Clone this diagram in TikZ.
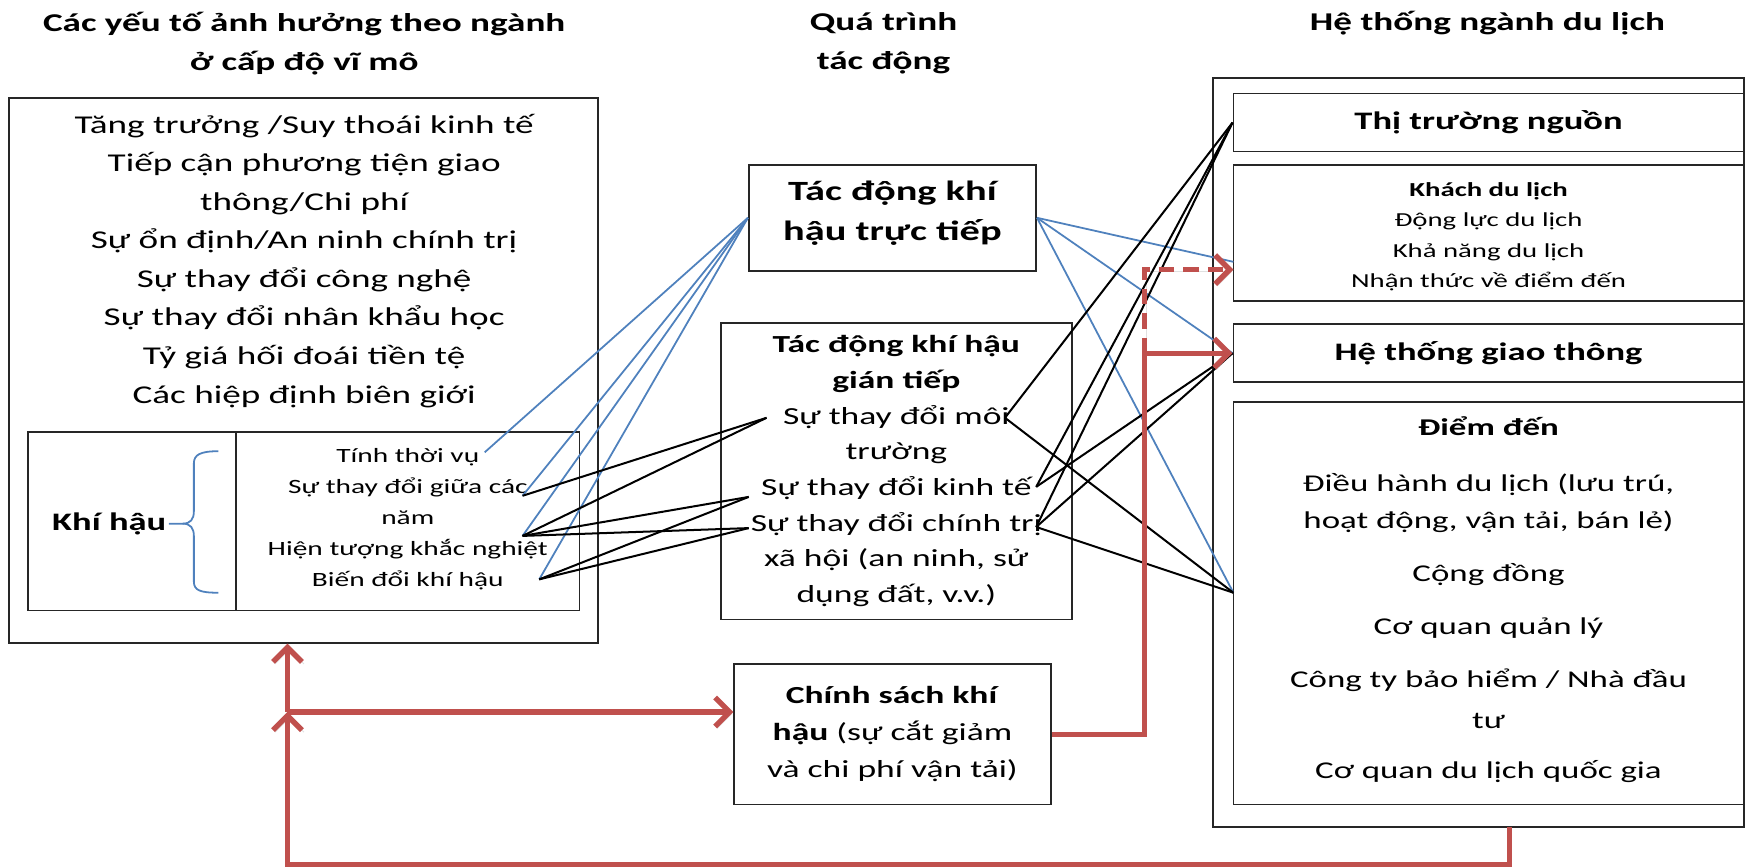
\documentclass[tikz,border=0pt]{standalone}
\usepackage{fontspec}
\setmainfont{Carlito}[FakeStretch=1.45]
\usetikzlibrary{arrows.meta}
\definecolor{linkblue}{HTML}{4F81BD}
\definecolor{policyred}{HTML}{C0504D}
\begin{document}
\begin{tikzpicture}[x=0.5pt,y=-0.5pt,
  box/.style={draw=black!85, line width=0.75pt, inner sep=0pt, align=center},
  head/.style={font=\bfseries\fontsize{11.5}{17.5}\selectfont, align=center},
  blueln/.style={linkblue, line width=0.8pt},
  blackln/.style={black, line width=0.9pt},
  redln/.style={policyred, line width=2.4pt, line join=miter,
    -{Straight Barb[length=6.5pt,width=13pt]},
    preaction={draw=black, draw opacity=0.12, transform canvas={shift={(0.9pt,-0.9pt)}}}},
  reddash/.style={redln, dash pattern=on 7pt off 4pt}]
\useasboundingbox (0,0) rectangle (1568,779);

% column headings
\node[head] (h1) at (273,39) {Các yếu tố ảnh hưởng theo ngành\\ở cấp độ vĩ mô};
\node[head] (h2) at (793,39) {Quá trình\\tác động};
\node[head] (h3) at (1335,21) {Hệ thống ngành du lịch};

% macro-level factors
\node[box, minimum width=264.5pt, minimum height=244.5pt] (macro) at (272.5,332.5) {};
\node[font=\fontsize{11.5}{17.3}\selectfont, align=center] (macrotext) at (273,234)
  {Tăng trưởng /Suy thoái kinh tế\\Tiếp cận phương tiện giao\\thông/Chi phí\\Sự ổn định/An ninh chính trị\\Sự thay đổi công nghệ\\Sự thay đổi nhân khẩu học\\Tỷ giá hối đoái tiền tệ\\Các hiệp định biên giới};

% climate sub-box
\node[box, minimum width=247.5pt, minimum height=80pt] (climate) at (272.5,468) {};
\coordinate (div) at (212,468);
\draw[black!85, line width=0.75pt] (climate.north -| div) -- (climate.south -| div);
\node[font=\bfseries\fontsize{11.3}{14}\selectfont, inner sep=1pt] (kh) at (98,470) {Khí hậu};
\node[font=\fontsize{9.1}{14}\selectfont, align=center] (items) at (366,466)
  {Tính thời vụ\\Sự thay đổi giữa các\\năm\\Hiện tượng khắc nghiệt\\Biến đổi khí hậu};
\coordinate (brtip) at (164,470);
\draw[blueln] (kh.east) -- (brtip) .. controls (171,470) and (174,466) .. (174,459)
  -- (174,416) .. controls (174,408) and (180,405) .. (196,405);
\draw[blueln] (brtip) .. controls (171,470) and (174,474) .. (174,481)
  -- (174,522) .. controls (174,530) and (180,532) .. (196,532);

% impact processes
\node[box, minimum width=129pt, minimum height=47.5pt] (direct) at (801,195.5) {};
\node[font=\bfseries\fontsize{12.5}{18}\selectfont, align=center] (directtext) at (801,191)
  {Tác động khí\\hậu trực tiếp};
\node[box, minimum width=157.5pt, minimum height=133pt, font=\fontsize{11}{16}\selectfont] (indirect) at (804.5,423)
  {\textbf{Tác động khí hậu}\\\textbf{gián tiếp}\\Sự thay đổi môi\\trường\\Sự thay đổi kinh tế\\Sự thay đổi chính trị\\xã hội (an ninh, sử\\dụng đất, v.v.)};
\node[box, minimum width=142pt, minimum height=63pt, font=\fontsize{11}{16.5}\selectfont] (policy) at (801,659)
  {\textbf{Chính sách khí}\\\textbf{hậu} (sự cắt giảm\\và chi phí vận tải)};

% tourism system
\node[box, minimum width=238pt, minimum height=336pt] (sector) at (1327,406) {};
\node[box, minimum width=229pt, minimum height=26pt, font=\bfseries\fontsize{11.3}{14}\selectfont] (market) at (1336,110) {Thị trường nguồn};
\node[box, minimum width=229pt, minimum height=61pt] (tourist) at (1336,209) {};
\node[font=\fontsize{8.9}{13.6}\selectfont, align=center] (touristtext) at (1336,212.5)
  {\textbf{Khách du lịch}\\Động lực du lịch\\Khả năng du lịch\\Nhận thức về điểm đến};
\node[box, minimum width=229pt, minimum height=26pt, font=\bfseries\fontsize{11.3}{14}\selectfont] (transport) at (1336,317) {Hệ thống giao thông};
\node[box, minimum width=229pt, minimum height=180.5pt] (dest) at (1336,541.5) {};
\node[font=\fontsize{10.8}{16.5}\selectfont, align=center] (desttext) at (1336,538.5)
  {\textbf{Điểm đến}\\[8.5pt]Điều hành du lịch (lưu trú,\\hoạt động, vận tải, bán lẻ)\\[7.5pt]Cộng đồng\\[7pt]Cơ quan quản lý\\[7.5pt]Công ty bảo hiểm / Nhà đầu\\[2pt]tư\\[6pt]Cơ quan du lịch quốc gia};

% connector ports on text lines
\coordinate (tv) at (435,406);
\coordinate (gc) at (469,445);
\coordinate (ht) at (469,481);
\coordinate (bd) at (484,520);
\coordinate (moiL) at (688,375);
\coordinate (ktL) at (672,446);
\coordinate (ctL) at (672,474);
\coordinate (moiR) at (902,375);
\coordinate (ktR) at (930,437);
\coordinate (ctR) at (930,473);
\coordinate (tourIn) at (1107,235);
\coordinate (tourArr) at (1107,242);
\coordinate (destIn) at (1107,532);

% direct impacts
\foreach \p in {tv,gc,ht,bd} \draw[blueln] (direct.west) -- (\p);
\draw[blueln] (direct.east) -- (tourIn);
\draw[blueln] (direct.east) -- (transport.west);
\draw[blueln] (direct.east) -- (destIn);

% indirect impacts
\draw[blackln] (gc) -- (moiL);
\draw[blackln] (ht) -- (moiL);
\draw[blackln] (ht) -- (ktL);
\draw[blackln] (ht) -- (ctL);
\draw[blackln] (bd) -- (ktL);
\draw[blackln] (bd) -- (ctL);
\draw[blackln] (moiR) -- (market.west);
\draw[blackln] (moiR) -- (destIn);
\draw[blackln] (ktR) -- (market.west);
\draw[blackln] (ktR) -- (transport.west);
\draw[blackln] (ctR) -- (market.west);
\draw[blackln] (ctR) -- (transport.west);
\draw[blackln] (ctR) -- (destIn);

% climate policy feedbacks
\coordinate (riser) at (1027,0);
\draw[reddash] (riser |- transport.west) -- (riser |- tourArr) -- (tourArr);
\draw[redln] (policy.east) -| (riser |- transport.west) -- (transport.west);
\coordinate (outS) at (1355,742);
\coordinate (loopL) at (258,776);
\coordinate (junc) at (258,639);
\draw[redln] (outS) -- (outS |- loopL) -- (loopL) -- (junc);
\draw[redln] (junc) -- (junc |- macro.south);
\draw[redln] (junc) -- (junc -| policy.west);
\end{tikzpicture}
\end{document}
